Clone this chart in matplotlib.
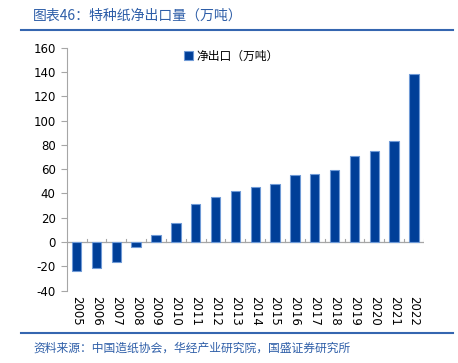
import matplotlib
matplotlib.use("Agg")
import matplotlib.pyplot as plt
from matplotlib.lines import Line2D

plt.rcParams['font.family'] = ['Noto Sans CJK SC', 'DejaVu Sans']
plt.rcParams['axes.unicode_minus'] = False

# 数据（万吨）
years = ['2005', '2006', '2007', '2008', '2009', '2010', '2011', '2012', '2013',
         '2014', '2015', '2016', '2017', '2018', '2019', '2020', '2021', '2022']
net_export = [-24, -21, -16, -4, 6, 16, 31, 37, 42, 45, 48, 55, 56, 59, 71, 75, 83, 138]

title = '图表46：特种纸净出口量（万吨）'
legend_label = '净出口（万吨）'
source = '资料来源：中国造纸协会，华经产业研究院，国盛证券研究所'

bar_color = '#003f98'
edge_color = '#6f9ad6'
blue_text = '#2e5ea8'
axis_gray = '#a6a6a6'

fig = plt.figure(figsize=(4.58, 3.63), dpi=100)
ax = fig.add_axes([0.1456, 0.199, 0.78, 0.67])

x = list(range(len(years)))
ax.bar(x, net_export, width=0.47, color=bar_color, edgecolor=edge_color,
       linewidth=0.8, label=legend_label, zorder=3)

ax.set_xlim(-0.5, len(years) - 0.5)
ax.set_ylim(-40, 160)
ax.set_yticks(range(-40, 161, 20))
ax.tick_params(axis='y', labelsize=8.5, length=4, color=axis_gray, pad=4)
for lab in ax.get_yticklabels():
    lab.set_family('DejaVu Sans')

# x 轴：年份标签竖排在底部
ax.set_xticks(x)
ax.set_xticklabels(years, rotation=270, fontsize=8.5, family='DejaVu Sans')
ax.tick_params(axis='x', length=0, pad=4)

for s in ['top', 'right', 'bottom']:
    ax.spines[s].set_visible(False)
ax.spines['left'].set_color(axis_gray)
ax.spines['left'].set_linewidth(0.8)

# 零线与分隔刻度
ax.axhline(0, color=axis_gray, linewidth=0.9, zorder=2)
for b in range(1, len(years) + 1):
    ax.plot([b - 0.5, b - 0.5], [0, 2.5], color=axis_gray, linewidth=0.8, zorder=2)

ax.legend(loc='upper left', bbox_to_anchor=(0.3, 1.035), frameon=False,
          fontsize=8.5, handlelength=0.7, handleheight=0.7, handletextpad=0.3)

# 标题、分割线、来源
fig.text(0.072, 0.958, title, fontsize=10, color=blue_text, va='center', ha='left')
fig.add_artist(Line2D([0.046, 0.99], [0.917, 0.917], color='#3566b0', linewidth=1.5,
                      transform=fig.transFigure))
fig.add_artist(Line2D([0.046, 0.99], [0.083, 0.083], color='#3566b0', linewidth=1.5,
                      transform=fig.transFigure))
fig.text(0.072, 0.04, source, fontsize=8.5, color=blue_text, va='center', ha='left')

fig.savefig('out.png', dpi=100)
